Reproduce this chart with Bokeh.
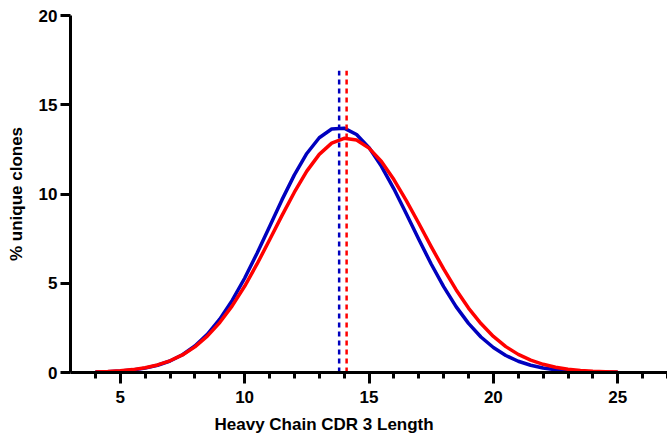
from bokeh.plotting import figure
from bokeh.models import Range1d, FixedTicker, Title
from bokeh.embed import file_html
from bokeh.resources import INLINE

# CDR3 length grid (x) and % unique clones
length = [4.0, 4.5, 5.0, 5.5, 6.0, 6.5, 7.0, 7.5, 8.0, 8.5,
          9.0, 9.5, 10.0, 10.5, 11.0, 11.5, 12.0, 12.5, 13.0, 13.5,
          14.0, 14.5, 15.0, 15.5, 16.0, 16.5, 17.0, 17.5, 18.0, 18.5,
          19.0, 19.5, 20.0, 20.5, 21.0, 21.5, 22.0, 22.5, 23.0, 23.5,
          24.0, 24.5, 25.0]
blue_pct = [0.024, 0.045, 0.082, 0.144, 0.246, 0.405, 0.645, 0.994, 1.484, 2.142,
            2.991, 4.04, 5.28, 6.68, 8.17, 9.67, 11.07, 12.27, 13.15, 13.64,
            13.69, 13.33, 12.60, 11.55, 10.29, 8.89, 7.46, 6.08, 4.81, 3.69,
            2.75, 1.99, 1.40, 0.951, 0.630, 0.404, 0.252, 0.152, 0.090, 0.051,
            0.028, 0.015, 0.008]
red_pct = [0.030, 0.055, 0.096, 0.162, 0.265, 0.423, 0.656, 0.985, 1.437, 2.035,
           2.797, 3.73, 4.83, 6.08, 7.42, 8.79, 10.10, 11.28, 12.22, 12.85,
           13.12, 13.02, 12.57, 11.82, 10.81, 9.63, 8.36, 7.05, 5.80, 4.64,
           3.61, 2.74, 2.02, 1.45, 1.016, 0.692, 0.459, 0.296, 0.186, 0.114,
           0.068, 0.039, 0.022]
blue_mean = 13.8
red_mean = 14.1
mean_line_top = 16.9
x_major = [5, 10, 15, 20, 25]
x_minor = [4, 6, 7, 8, 9, 11, 12, 13, 14, 16, 17, 18, 19, 21, 22, 23, 24, 26, 27]
y_major = [0, 5, 10, 15, 20]

BLUE = "#0000BE"
RED = "#FF0000"
FONT = "Liberation Sans"

p = figure(width=667, height=445, output_backend="svg", toolbar_location=None,
           x_range=Range1d(3, 27), y_range=Range1d(0, 20),
           min_border_left=70, min_border_right=0, min_border_top=15,
           min_border_bottom=73)
p.outline_line_color = None
p.xgrid.visible = False
p.ygrid.visible = False
p.background_fill_color = "white"

p.line(length, blue_pct, line_color=BLUE, line_width=3.5, line_join="round")
p.line(length, red_pct, line_color=RED, line_width=3.5, line_join="round")
p.segment(x0=[blue_mean], y0=[0], x1=[blue_mean], y1=[mean_line_top],
          line_color=BLUE, line_width=2.5, line_dash="5 4")
p.segment(x0=[red_mean], y0=[0], x1=[red_mean], y1=[mean_line_top],
          line_color=RED, line_width=2.5, line_dash="5 4")

xa = p.xaxis[0]
xa.ticker = FixedTicker(ticks=x_major, minor_ticks=x_minor)
xa.axis_line_width = 3
xa.axis_line_color = "black"
xa.major_tick_line_color = "black"
xa.minor_tick_line_color = "black"
xa.major_tick_line_width = 3
xa.minor_tick_line_width = 3
xa.major_tick_out = 11
xa.major_tick_in = 0
xa.minor_tick_out = 6
xa.minor_tick_in = 0
xa.major_label_standoff = 7
xa.major_label_text_font = FONT
xa.major_label_text_font_style = "bold"
xa.major_label_text_font_size = "17px"
xa.major_label_text_color = "black"

ya = p.yaxis[0]
ya.ticker = FixedTicker(ticks=y_major)
ya.axis_line_width = 3
ya.axis_line_color = "black"
ya.major_tick_line_color = "black"
ya.major_tick_line_width = 3
ya.major_tick_out = 10
ya.major_tick_in = 0
ya.minor_tick_line_color = None
ya.major_label_standoff = 3
ya.major_label_text_font = FONT
ya.major_label_text_font_style = "bold"
ya.major_label_text_font_size = "17px"
ya.major_label_text_color = "black"
ya.axis_label = "% unique clones"
ya.axis_label_text_font = FONT
ya.axis_label_text_font_style = "bold"
ya.axis_label_text_font_size = "17px"
ya.axis_label_text_color = "black"
ya.axis_label_standoff = 10

p.add_layout(Title(text="Heavy Chain CDR 3 Length", align="left", offset=144,
                   text_font=FONT, text_font_size="17px", text_font_style="bold",
                   text_color="black", standoff=14, vertical_align="bottom"),
             "below")

open("out.html", "w").write(file_html(p, INLINE))
